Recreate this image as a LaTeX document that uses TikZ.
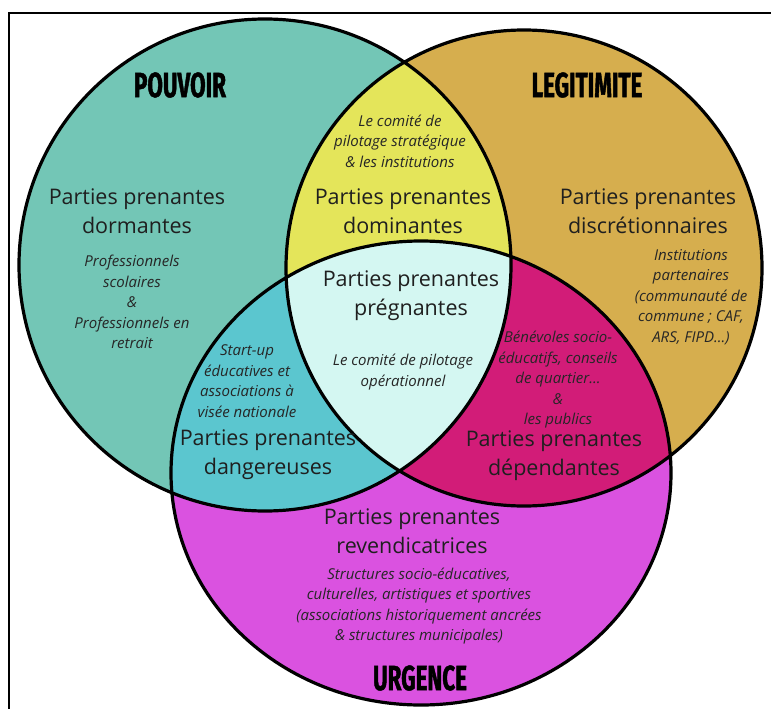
\documentclass[tikz,border=0pt]{standalone}
\usepackage{fontspec}
\setmainfont{Open Sans}
\newfontfamily\headfont[FakeStretch=0.64,FakeBold=1.2]{Fira Sans}
\definecolor{pouvoir}{HTML}{73C6B6}
\definecolor{legitimite}{HTML}{D6AE4E}
\definecolor{urgence}{HTML}{DA52E0}
\definecolor{dominant}{HTML}{E4E55A}
\definecolor{dangereux}{HTML}{5BC6CF}
\definecolor{dependant}{HTML}{D21C78}
\definecolor{pregnant}{HTML}{D4F7F2}
\begin{document}
\begin{tikzpicture}[x=1pt, y=-1pt,
      partie/.style={align=center, text=black!88, font=\fontsize{21.5}{29}\selectfont},
      exemple/.style={align=center, text=black!85, font=\itshape\fontsize{15}{20.5}\selectfont},
      titre/.style={font=\headfont\bfseries\fontsize{35}{35}\selectfont}]
    \useasboundingbox (0,0) rectangle (771,709);
    \coordinate (cP) at (265,265);
    \coordinate (cL) at (524,268);
    \coordinate (cU) at (421,473);
    \fill[pouvoir] (cP) circle (246pt);
    \fill[legitimite] (cL) circle (238pt);
    \fill[urgence] (cU) ellipse [x radius=250pt, y radius=232pt];
    \begin{scope}
      \clip (cP) circle (246pt);
      \fill[dominant] (cL) circle (238pt);
      \fill[dangereux] (cU) ellipse [x radius=250pt, y radius=232pt];
    \end{scope}
    \begin{scope}
      \clip (cL) circle (238pt);
      \fill[dependant] (cU) ellipse [x radius=250pt, y radius=232pt];
      \clip (cP) circle (246pt);
      \fill[pregnant] (cU) ellipse [x radius=250pt, y radius=232pt];
    \end{scope}
    \draw[line width=3.2pt] (cP) circle (246pt) (cL) circle (238pt)
      (cU) ellipse [x radius=250pt, y radius=232pt];
    \draw[line width=2pt] (9,709) -- (9,13) -- (771,13);

    \node[titre] (pouvoir) at (180,85) {POUVOIR};
    \node[titre] (legitimite) at (587,85) {LEGITIMITE};
    \node[titre] (urgence) at (420,678) {URGENCE};

    \node[partie] (dormantes) at (137,211) {Parties prenantes\\dormantes};
    \node[exemple] (dormantesEx) at (132,302) {Professionnels\\scolaires\\\&\\Professionnels en\\retrait};
    \node[exemple] (dominantesEx) at (400,141) {Le comité de\\pilotage stratégique\\\& les institutions};
    \node[partie] (dominantes) at (403,211) {Parties prenantes\\dominantes};
    \node[partie] (discretion) at (648,211) {Parties prenantes\\discrétionnaires};
    \node[exemple] (discretionEx) at (691,297) {Institutions\\partenaires\\(communauté de\\commune ; CAF,\\ARS, FIPD...)};
    \node[partie] (pregnantes) at (411,296) {Parties prenantes\\prégnantes};
    \node[exemple] (pregnantesEx) at (403,372) {Le comité de pilotage\\opérationnel};
    \node[exemple] (dangereusesEx) at (247,381) {Start-up\\éducatives et\\associations à\\visée nationale};
    \node[partie] (dangereuses) at (268,455) {Parties prenantes\\dangereuses};
    \node[exemple] (dependantesEx) at (558,380) {Bénévoles socio-\\éducatifs, conseils\\de quartier...\\\&\\les publics};
    \node[partie] (dependantes) at (554,456) {Parties prenantes\\dépendantes};
    \node[partie] (revendic) at (412,531) {Parties prenantes\\revendicatrices};
    \node[exemple] (revendicEx) at (419,606) {Structures socio-éducatives,\\culturelles, artistiques et sportives\\(associations historiquement ancrées\\\& structures municipales)};
  \end{tikzpicture}
\end{document}
